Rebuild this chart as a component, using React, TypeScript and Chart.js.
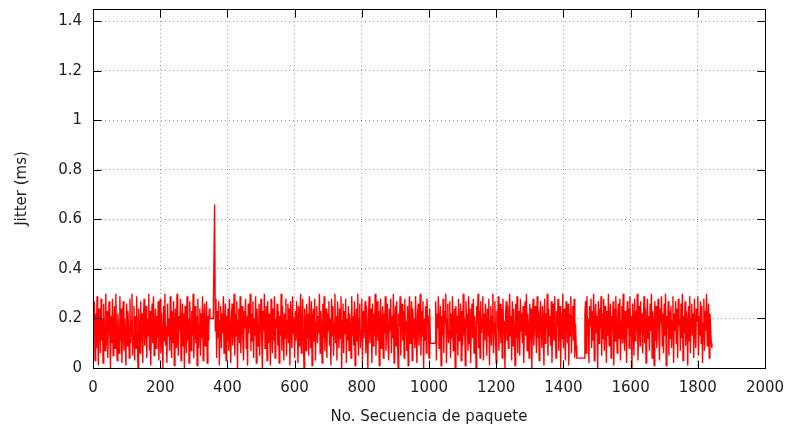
import React, { useEffect, useRef } from "react";
import { Chart, registerables } from "chart.js";

Chart.register(...registerables);

// Packet sequence numbers are sampled every PACKET_STEP packets
const PACKET_STEP = 2;

const jitterMs: number[] = [
  0.25,0.12,0.27,0.03,0.22,0.08,0.29,0.14,0.01,0.24,0.18,0.06,0.28,0.11,0.20,0.02,0.26,0.15,0.07,0.30,
  0.09,0.23,0.04,0.19,0.27,0.13,0.00,0.21,0.10,0.28,0.05,0.17,0.25,0.08,0.30,0.12,0.03,0.22,0.16,0.06,
  0.29,0.11,0.24,0.02,0.18,0.27,0.07,0.20,0.13,0.01,0.26,0.09,0.23,0.15,0.04,0.28,0.10,0.19,0.30,0.05,
  0.14,0.25,0.03,0.21,0.08,0.29,0.12,0.00,0.24,0.17,0.06,0.27,0.11,0.22,0.02,0.19,0.28,0.09,0.16,0.25,
  0.04,0.20,0.13,0.30,0.07,0.23,0.01,0.18,0.26,0.10,0.29,0.05,0.15,0.24,0.08,0.21,0.12,0.27,0.03,0.19,
  0.28,0.06,0.22,0.14,0.00,0.25,0.11,0.30,0.09,0.17,0.02,0.26,0.13,0.20,0.07,0.29,0.16,0.04,0.23,0.10,
  0.27,0.01,0.18,0.24,0.08,0.30,0.12,0.05,0.21,0.15,0.28,0.03,0.19,0.26,0.09,0.22,0.00,0.25,0.14,0.06,
  0.29,0.11,0.20,0.02,0.27,0.16,0.07,0.23,0.13,0.30,0.04,0.18,0.25,0.10,0.21,0.01,0.28,0.08,0.17,0.24,
  0.05,0.22,0.12,0.29,0.03,0.19,0.26,0.09,0.15,0.27,0.02,0.21,0.11,0.24,0.20,0.20,0.20,0.20,0.20,0.20,
  0.20,0.66,0.15,0.28,0.04,0.23,0.12,0.27,0.01,0.19,0.25,0.08,0.22,0.14,0.29,0.06,0.18,0.26,0.03,0.21,
  0.11,0.24,0.07,0.28,0.15,0.02,0.20,0.26,0.09,0.17,0.30,0.05,0.22,0.13,0.27,0.00,0.19,0.24,0.10,0.29,
  0.06,0.18,0.25,0.12,0.03,0.23,0.16,0.28,0.08,0.21,0.01,0.26,0.14,0.19,0.30,0.07,0.22,0.11,0.27,0.04,
  0.20,0.13,0.29,0.02,0.24,0.17,0.09,0.26,0.05,0.21,0.28,0.12,0.00,0.23,0.15,0.30,0.08,0.19,0.25,0.03,
  0.27,0.10,0.22,0.14,0.01,0.28,0.18,0.06,0.24,0.11,0.29,0.04,0.20,0.16,0.26,0.09,0.23,0.02,0.21,0.13,
  0.30,0.07,0.25,0.17,0.03,0.22,0.12,0.28,0.05,0.19,0.26,0.10,0.24,0.01,0.27,0.15,0.08,0.29,0.14,0.20,
  0.04,0.23,0.11,0.27,0.18,0.02,0.25,0.09,0.21,0.30,0.06,0.16,0.28,0.13,0.00,0.24,0.19,0.07,0.26,0.12,
  0.22,0.05,0.29,0.15,0.08,0.27,0.01,0.20,0.24,0.11,0.28,0.03,0.18,0.25,0.10,0.21,0.14,0.30,0.06,0.23,
  0.17,0.02,0.26,0.12,0.29,0.07,0.19,0.24,0.04,0.22,0.15,0.27,0.09,0.20,0.01,0.28,0.13,0.25,0.05,0.18,
  0.30,0.10,0.21,0.03,0.27,0.16,0.08,0.24,0.12,0.29,0.00,0.19,0.26,0.06,0.23,0.14,0.28,0.02,0.20,0.11,
  0.25,0.07,0.22,0.17,0.04,0.29,0.13,0.21,0.09,0.27,0.01,0.18,0.24,0.11,0.30,0.05,0.20,0.26,0.08,0.15,
  0.28,0.03,0.23,0.12,0.19,0.27,0.06,0.25,0.14,0.00,0.21,0.29,0.10,0.17,0.24,0.02,0.26,0.09,0.22,0.13,
  0.30,0.05,0.18,0.27,0.11,0.23,0.01,0.20,0.28,0.08,0.16,0.25,0.04,0.22,0.14,0.29,0.07,0.19,0.26,0.10,
  0.03,0.24,0.15,0.28,0.06,0.21,0.12,0.30,0.02,0.18,0.25,0.09,0.27,0.13,0.00,0.22,0.17,0.29,0.05,0.20,
  0.26,0.11,0.23,0.04,0.28,0.14,0.19,0.07,0.25,0.01,0.21,0.29,0.10,0.16,0.27,0.03,0.24,0.12,0.20,0.08,
  0.29,0.15,0.02,0.22,0.26,0.09,0.18,0.30,0.05,0.23,0.13,0.27,0.00,0.20,0.11,0.25,0.06,0.28,0.17,0.21,
  0.04,0.24,0.10,0.10,0.10,0.10,0.10,0.10,0.10,0.10,0.27,0.03,0.22,0.16,0.29,0.08,0.19,0.25,0.01,0.21,
  0.13,0.28,0.06,0.23,0.18,0.30,0.02,0.20,0.26,0.10,0.15,0.27,0.04,0.22,0.12,0.29,0.07,0.19,0.24,0.00,
  0.25,0.14,0.21,0.05,0.28,0.11,0.17,0.26,0.03,0.23,0.09,0.30,0.13,0.20,0.01,0.27,0.16,0.22,0.07,0.29,
  0.10,0.24,0.02,0.19,0.26,0.12,0.28,0.06,0.21,0.15,0.00,0.25,0.18,0.30,0.08,0.23,0.04,0.27,0.14,0.20,
  0.29,0.03,0.22,0.11,0.26,0.17,0.05,0.24,0.13,0.28,0.01,0.19,0.25,0.09,0.21,0.30,0.06,0.18,0.27,0.12,
  0.02,0.23,0.16,0.29,0.07,0.20,0.26,0.10,0.24,0.04,0.28,0.14,0.19,0.00,0.22,0.27,0.11,0.25,0.08,0.18,
  0.30,0.13,0.21,0.03,0.27,0.09,0.24,0.16,0.01,0.26,0.12,0.29,0.06,0.20,0.23,0.05,0.28,0.15,0.22,0.10,
  0.25,0.02,0.19,0.27,0.13,0.30,0.07,0.22,0.17,0.04,0.26,0.11,0.24,0.00,0.21,0.28,0.09,0.18,0.25,0.14,
  0.06,0.29,0.12,0.23,0.03,0.20,0.27,0.15,0.08,0.25,0.19,0.01,0.28,0.10,0.22,0.16,0.30,0.05,0.24,0.13,
  0.21,0.09,0.27,0.02,0.18,0.26,0.11,0.29,0.14,0.04,0.23,0.17,0.28,0.07,0.20,0.25,0.00,0.22,0.12,0.30,
  0.08,0.24,0.16,0.03,0.27,0.19,0.10,0.26,0.01,0.22,0.13,0.29,0.06,0.21,0.25,0.11,0.28,0.04,0.18,0.09,
  0.04,0.04,0.04,0.04,0.04,0.04,0.04,0.04,0.04,0.04,0.04,0.04,0.22,0.27,0.06,0.29,0.13,0.20,0.02,0.25,
  0.17,0.28,0.08,0.23,0.11,0.30,0.03,0.19,0.26,0.14,0.21,0.00,0.27,0.10,0.24,0.16,0.29,0.05,0.22,0.12,
  0.28,0.07,0.25,0.18,0.02,0.23,0.13,0.30,0.09,0.20,0.26,0.04,0.21,0.15,0.27,0.01,0.24,0.11,0.29,0.17,
  0.06,0.22,0.26,0.12,0.28,0.03,0.19,0.25,0.10,0.30,0.14,0.07,0.23,0.20,0.02,0.27,0.16,0.24,0.08,0.29,
  0.13,0.21,0.00,0.26,0.18,0.05,0.28,0.11,0.23,0.15,0.30,0.03,0.20,0.25,0.09,0.27,0.14,0.22,0.06,0.19,
  0.29,0.10,0.24,0.02,0.17,0.28,0.12,0.21,0.07,0.26,0.15,0.30,0.04,0.23,0.19,0.01,0.27,0.11,0.25,0.08,
  0.20,0.28,0.14,0.03,0.24,0.18,0.29,0.09,0.22,0.06,0.26,0.13,0.30,0.01,0.21,0.16,0.27,0.05,0.23,0.12,
  0.25,0.08,0.19,0.29,0.02,0.22,0.15,0.27,0.10,0.24,0.04,0.28,0.17,0.20,0.07,0.26,0.12,0.30,0.03,0.21,
  0.14,0.27,0.09,0.23,0.18,0.01,0.25,0.11,0.29,0.06,0.20,0.26,0.13,0.22,0.04,0.28,0.16,0.08,0.24,0.19,
  0.29,0.05,0.21,0.13,0.27,0.10,0.25,0.02,0.18,0.28,0.07,0.23,0.15,0.30,0.09,0.20,0.26,0.04,0.22,0.17,
  0.10,0.08,
];

const xTickValues: number[] = [0, 200, 400, 600, 800, 1000, 1200, 1400, 1600, 1800, 2000];
const yTickValues: number[] = [0, 0.2, 0.4, 0.6, 0.8, 1, 1.2, 1.4];

const X_MIN = 0;
const X_MAX = 2000;
const Y_MIN = 0;
const Y_MAX = 1.45;

const X_TITLE = "No. Secuencia de paquete";
const Y_TITLE = "Jitter (ms)";

const FONT = "'DejaVu Sans', Verdana, sans-serif";
const FONT_SIZE = 15;
const TEXT_COLOR = "#1e1e1e";

const frameAndTicks = {
  id: "frameAndTicks",
  afterDatasetsDraw(chart: any) {
    const { ctx, chartArea, scales } = chart;
    const { left, right, top, bottom } = chartArea;
    const L = Math.round(left) + 0.5;
    const R = Math.round(right) + 0.5;
    const T = Math.round(top) + 0.5;
    const B = Math.round(bottom) + 0.5;
    const len = 8;
    ctx.save();
    ctx.strokeStyle = "#000";
    ctx.lineWidth = 1;
    ctx.setLineDash([]);
    ctx.beginPath();
    for (const t of scales.x.ticks) {
      const px = Math.round(scales.x.getPixelForValue(t.value)) + 0.5;
      ctx.moveTo(px, B);
      ctx.lineTo(px, B - len);
      ctx.moveTo(px, T);
      ctx.lineTo(px, T + len);
    }
    for (const t of scales.y.ticks) {
      const py = Math.round(scales.y.getPixelForValue(t.value)) + 0.5;
      ctx.moveTo(L, py);
      ctx.lineTo(L + len, py);
      ctx.moveTo(R, py);
      ctx.lineTo(R - len, py);
    }
    ctx.stroke();
    ctx.strokeRect(L, T, R - L, B - T);
    ctx.restore();
  },
};

export default function App() {
  const canvasRef = useRef<HTMLCanvasElement | null>(null);

  useEffect(() => {
    const canvas = canvasRef.current;
    if (!canvas) return;
    const points = jitterMs.map((v, i) => ({ x: i * PACKET_STEP, y: v }));
    const chart = new Chart(canvas, {
      type: "line",
      data: {
        datasets: [
          {
            data: points,
            borderColor: "#ff0000",
            borderWidth: 1.4,
            pointRadius: 0,
            tension: 0,
            fill: false,
          },
        ],
      },
      options: {
        animation: false,
        responsive: false,
        maintainAspectRatio: false,
        layout: { padding: { top: 9, right: 25, bottom: 0, left: 0 } },
        plugins: {
          legend: { display: false },
          tooltip: { enabled: false },
        },
        scales: {
          x: {
            type: "linear",
            min: X_MIN,
            max: X_MAX,
            afterFit: (s: any) => {
              s.height = 62;
              s.paddingLeft = 0;
              s.paddingRight = 0;
            },
            afterBuildTicks: (s: any) => {
              s.ticks = xTickValues.map((v) => ({ value: v }));
            },
            ticks: {
              color: TEXT_COLOR,
              font: { family: FONT, size: FONT_SIZE },
              padding: 11,
              maxRotation: 0,
              autoSkip: false,
              callback: (v: any) => String(v),
            },
            grid: { color: "#9a9a9a", drawTicks: false, lineWidth: 1 },
            border: { display: false, dash: [1, 3] },
            title: {
              display: true,
              text: X_TITLE,
              color: TEXT_COLOR,
              font: { family: FONT, size: FONT_SIZE },
              padding: { top: 0, bottom: 4 },
            },
          },
          y: {
            type: "linear",
            min: Y_MIN,
            max: Y_MAX,
            afterFit: (s: any) => {
              s.width = 93;
              s.paddingTop = 0;
              s.paddingBottom = 0;
            },
            afterBuildTicks: (s: any) => {
              s.ticks = yTickValues.map((v) => ({ value: v }));
            },
            ticks: {
              color: TEXT_COLOR,
              font: { family: FONT, size: FONT_SIZE },
              padding: 11,
              autoSkip: false,
              callback: (v: any) => String(Number(Number(v).toFixed(1))),
            },
            grid: { color: "#9a9a9a", drawTicks: false, lineWidth: 1 },
            border: { display: false, dash: [1, 3] },
            title: {
              display: true,
              text: Y_TITLE,
              color: TEXT_COLOR,
              font: { family: FONT, size: FONT_SIZE },
              padding: { top: 13, bottom: 0 },
            },
          },
        },
      },
      plugins: [frameAndTicks],
    });
    return () => chart.destroy();
  }, []);

  return (
    <div style={{ position: "absolute", left: 0, top: 0, width: 790, height: 430, background: "#fff" }}>
      <canvas ref={canvasRef} width={790} height={430} style={{ display: "block" }} />
    </div>
  );
}
